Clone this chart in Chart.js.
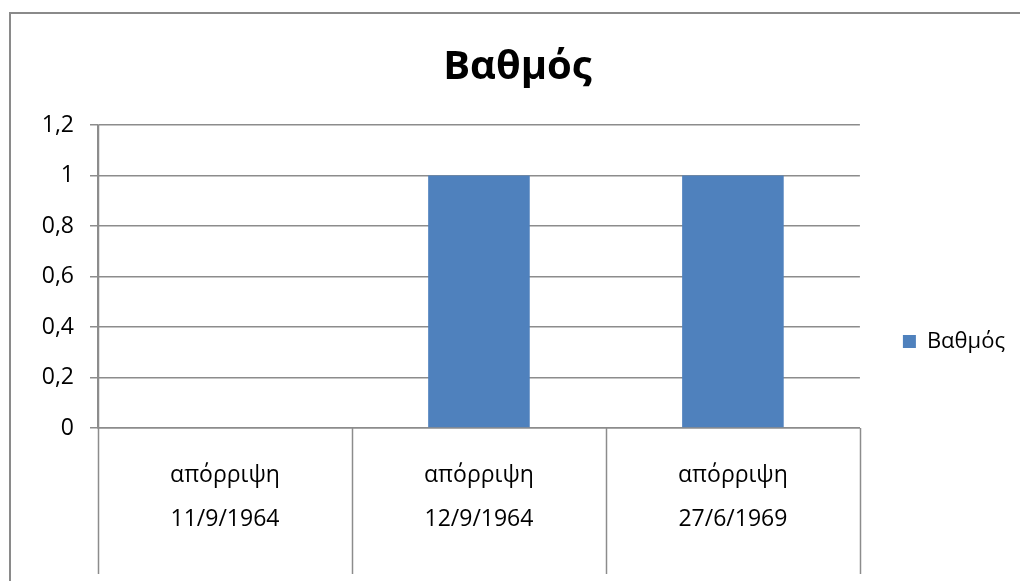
<!DOCTYPE html>
<html>
<head>
<meta charset="utf-8">
<script src="https://cdn.jsdelivr.net/npm/chart.js@4"></script>
<style>
  html, body { margin: 0; padding: 0; background: #fff; }
  #wrap { width: 1020px; height: 581px; position: relative; }
</style>
</head>
<body>
<div id="wrap"><canvas id="myChart" width="1020" height="581"></canvas></div>
<script>
// データ
const statusLabels = ["απόρριψη", "απόρριψη", "απόρριψη"];
const dateLabels = ["11/9/1964", "12/9/1964", "27/6/1969"];
const gradeValues = [0, 1, 1];
const seriesName = "Βαθμός";
const yTicks = [0, 0.2, 0.4, 0.6, 0.8, 1, 1.2];

const gridColor = "#8c8c8c";
const fontFamily = "'Open Sans', 'Noto Sans', sans-serif";

// 枠線とカテゴリ区切り線
const framePlugin = {
  id: "frame",
  beforeDraw(chart) {
    const ctx = chart.ctx;
    ctx.save();
    ctx.strokeStyle = "#8a8a8a";
    ctx.lineWidth = 2;
    ctx.strokeRect(10, 13, 1100, 1000);
    ctx.restore();
  },
  afterDraw(chart) {
    const ctx = chart.ctx;
    const x = chart.scales.x;
    const area = chart.chartArea;
    const n = chart.data.labels.length;
    ctx.save();
    ctx.strokeStyle = gridColor;
    ctx.lineWidth = 1.5;
    for (let i = 0; i <= n; i++) {
      let px;
      if (i === 0) px = area.left;
      else if (i === n) px = area.right;
      else px = (x.getPixelForValue(i - 1) + x.getPixelForValue(i)) / 2;
      px = Math.round(px) + 0.5;
      ctx.beginPath();
      ctx.moveTo(px, i === 0 ? area.top : area.bottom);
      ctx.lineTo(px, 574);
      ctx.stroke();
    }
    ctx.restore();
  }
};

const ctx = document.getElementById("myChart").getContext("2d");
const chart = new Chart(ctx, {
  type: "bar",
  data: {
    labels: statusLabels.map((s, i) => [s, dateLabels[i]]),
    datasets: [
      {
        label: seriesName,
        data: gradeValues,
        backgroundColor: "#4f81bd",
        borderWidth: 0,
        categoryPercentage: 1,
        barPercentage: 0.4
      }
    ]
  },
  options: {
    responsive: false,
    animation: false,
    layout: { padding: { left: 20, right: 5, top: 0, bottom: 0 } },
    plugins: {
      title: {
        display: true,
        text: seriesName,
        color: "#000",
        font: { family: fontFamily, size: 40, weight: "bold" },
        padding: { top: 44, bottom: 33 }
      },
      legend: {
        display: true,
        position: "right",
        title: {
          display: true,
          text: " ",
          font: { family: fontFamily, size: 10, lineHeight: 1 },
          padding: { top: 92, bottom: 0 }
        },
        labels: {
          boxWidth: 13,
          boxHeight: 13,
          color: "#000",
          padding: 43,
          font: { family: fontFamily, size: 22 }
        }
      },
      tooltip: { enabled: false }
    },
    scales: {
      x: {
        grid: { display: false, drawTicks: false },
        border: { display: true, color: gridColor, width: 1.5 },
        ticks: {
          color: "#000",
          padding: 25,
          maxRotation: 0,
          font: { family: fontFamily, size: 23, lineHeight: 1.92 }
        },
        afterFit(scale) { scale.height = 153; }
      },
      y: {
        min: 0,
        max: 1.2,
        afterBuildTicks(scale) { scale.ticks = yTicks.map(v => ({ value: v })); },
        grid: { color: gridColor, lineWidth: 1.5, tickLength: 8 },
        border: { display: true, color: gridColor, width: 1.5 },
        ticks: {
          color: "#000",
          padding: 16,
          font: { family: fontFamily, size: 23 },
          callback: function (value) {
            return String(Math.round(value * 10) / 10).replace(".", ",");
          }
        },
        afterFit(scale) { scale.width = 78; }
      }
    }
  },
  plugins: [framePlugin]
});
</script>
</body>
</html>
